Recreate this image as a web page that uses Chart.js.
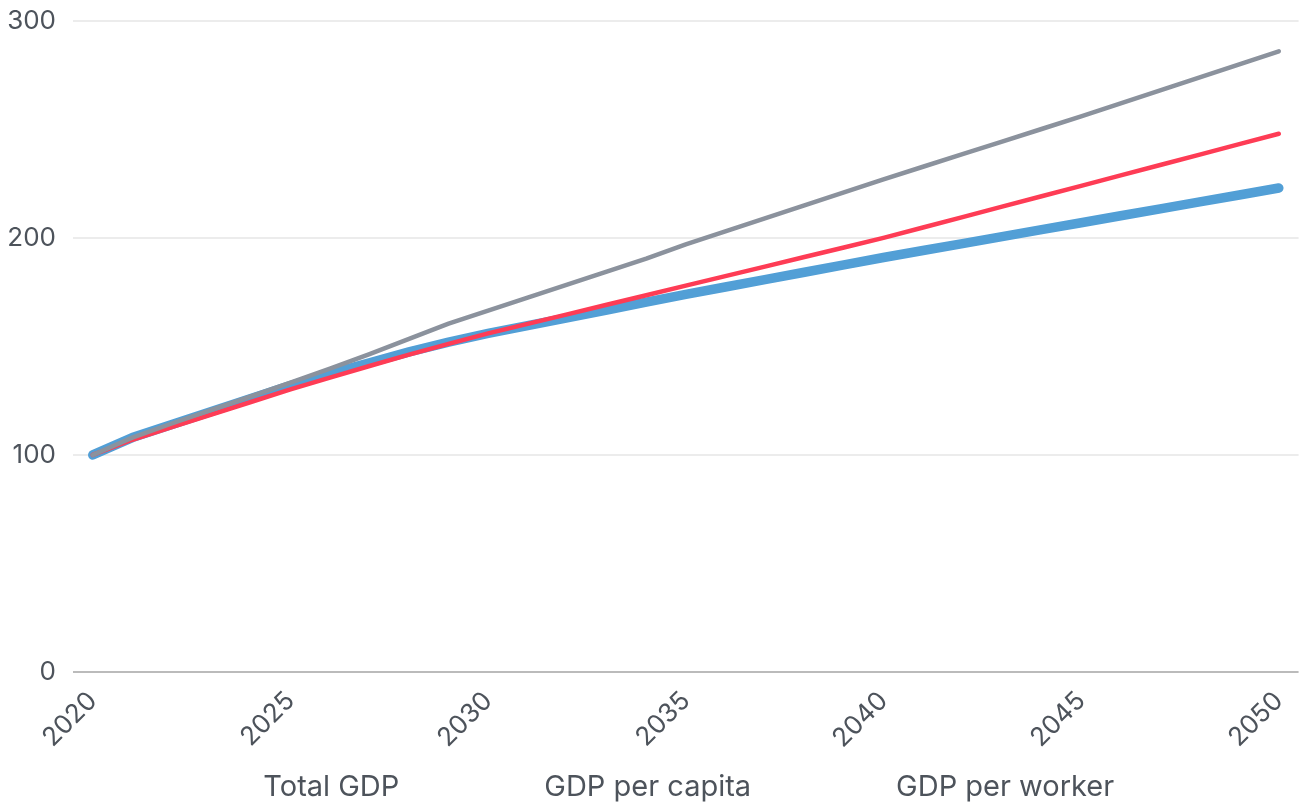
<!DOCTYPE html>
<html>
<head>
<meta charset="utf-8">
<script src="https://cdn.jsdelivr.net/npm/chart.js@4"></script>
<style>
  html, body { margin: 0; padding: 0; background: #fff; }
  #wrap { width: 1308px; height: 807px; }
</style>
</head>
<body>
<div id="wrap"><canvas id="chart"></canvas></div>
<script>
// years on the x axis
const years = [];
for (let y = 2020; y <= 2050; y++) years.push(String(y));

// index, 2020 = 100
const totalGdp = [100, 108, 114.5, 120.8, 127, 133.3, 139.8, 146.5, 153.5, 160.5,
    166.5, 172.5, 178.5, 184.5, 190.5, 197, 203, 209, 215, 221,
    227, 232.8, 238.6, 244.4, 250.2, 256, 262, 268, 274, 280, 286];
const gdpPerCapita = [100, 107, 112.8, 118.6, 124.4, 130.2, 135.6, 141, 146.2, 151.2,
    156, 160.4, 164.8, 169.2, 173.6, 178, 182.4, 186.8, 191.2, 195.6,
    200, 204.8, 209.6, 214.4, 219.2, 224, 228.8, 233.6, 238.4, 243.2, 248];
const gdpPerWorker = [100, 108, 114, 120, 126, 132, 137.5, 142.5, 147.5, 152,
    156, 159.6, 163.2, 166.8, 170.4, 174, 177.4, 180.8, 184.2, 187.6,
    191, 194.2, 197.4, 200.6, 203.8, 207, 210.2, 213.4, 216.6, 219.8, 223];

const yTicks = [0, 100, 200, 300];

const textColor = '#4d535b';
const fontFamily = 'Inter, "Noto Sans", sans-serif';

// legend has no swatches, items are spaced out with blanks
const padBefore = ' '.repeat(11);
const padAfter = ' '.repeat(5);

const ctx = document.getElementById('chart');

new Chart(ctx, {
    type: 'line',
    data: {
        labels: years,
        datasets: [
            {
                label: 'Total GDP',
                data: totalGdp,
                borderColor: '#8b929d',
                borderWidth: 4.5
            },
            {
                label: 'GDP per capita',
                data: gdpPerCapita,
                borderColor: '#fe3c55',
                borderWidth: 4.5
            },
            {
                label: 'GDP per worker',
                data: gdpPerWorker,
                borderColor: '#529fd6',
                borderWidth: 9.5
            }
        ]
    },
    options: {
        responsive: true,
        maintainAspectRatio: false,
        animation: false,
        layout: {
            padding: { top: 0, right: -4, left: 2, bottom: -5 }
        },
        elements: {
            point: { radius: 0, hoverRadius: 0 },
            line: { tension: 0, borderCapStyle: 'round', borderJoinStyle: 'round', fill: false }
        },
        plugins: {
            legend: {
                position: 'bottom',
                labels: {
                    boxWidth: 0,
                    boxHeight: 0,
                    padding: 0,
                    color: textColor,
                    font: { family: fontFamily, size: 29 },
                    generateLabels: chart => chart.data.datasets.map((ds, i) => ({
                        text: padBefore + ds.label + padAfter,
                        fillStyle: 'transparent',
                        strokeStyle: 'transparent',
                        lineWidth: 0,
                        fontColor: textColor,
                        hidden: false,
                        datasetIndex: i
                    }))
                }
            },
            tooltip: { enabled: false }
        },
        scales: {
            x: {
                offset: true,
                grid: { display: false, drawTicks: false },
                border: { display: false },
                afterFit: axis => { axis.height = 101; },
                ticks: {
                    autoSkip: false,
                    maxRotation: 45,
                    minRotation: 45,
                    padding: 20,
                    color: textColor,
                    font: { family: fontFamily, size: 26, lineHeight: 0.5 },
                    callback: function (value, index) {
                        const label = this.getLabelForValue(value);
                        return Number(label) % 5 === 0 ? label : null;
                    }
                }
            },
            y: {
                min: 0,
                max: 300,
                afterBuildTicks: axis => {
                    axis.ticks = yTicks.map(v => ({ value: v }));
                },
                afterFit: axis => { axis.width = 71; },
                grid: {
                    drawTicks: false,
                    lineWidth: 2,
                    color: c => c.tick && c.tick.value === 0 ? '#bbbbbb' : '#ececec'
                },
                border: { display: false },
                ticks: {
                    padding: 17,
                    color: textColor,
                    font: { family: fontFamily, size: 26, lineHeight: 0.3 }
                }
            }
        }
    }
});
</script>
</body>
</html>
